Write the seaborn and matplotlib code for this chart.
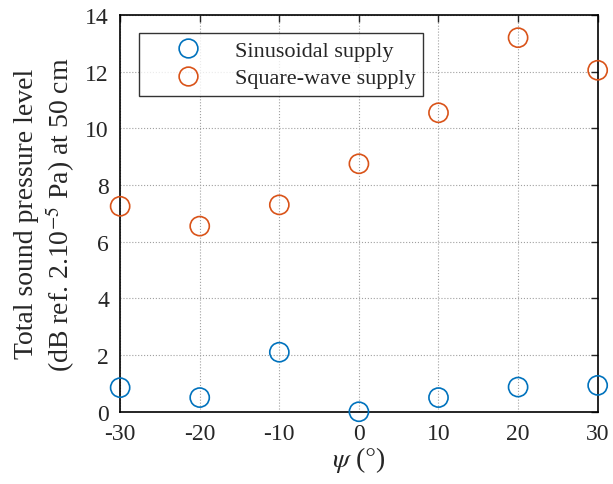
import matplotlib
matplotlib.use('Agg')
import matplotlib.pyplot as plt
import pandas as pd
import seaborn as sns

# angle psi (deg) and total SPL values
psi = [-30, -20, -10, 0, 10, 20, 30]
sinusoidal = [0.85, 0.5, 2.1, 0.0, 0.5, 0.87, 0.93]
square_wave = [7.25, 6.55, 7.3, 8.75, 10.55, 13.2, 12.05]
series_names = ['Sinusoidal supply', 'Square-wave supply']
colors = ['#0072BD', '#D95319']

df = pd.DataFrame({
    'psi': psi * 2,
    'spl': sinusoidal + square_wave,
    'supply': [series_names[0]] * len(psi) + [series_names[1]] * len(psi),
})

sns.set_style('white')
plt.rcParams['font.family'] = ['Liberation Serif', 'DejaVu Serif']
plt.rcParams['mathtext.fontset'] = 'stix'
plt.rcParams['axes.unicode_minus'] = False

fig = plt.figure(figsize=(6.13, 4.85), dpi=100)
ax = fig.add_axes([0.196, 0.149, 0.779, 0.818])

sns.scatterplot(data=df, x='psi', y='spl', hue='supply', palette=colors,
                ax=ax, marker='o', s=190, linewidth=1.2, legend=False,
                clip_on=False, zorder=3)
# hollow markers: move the hue colour from face to edge
coll = ax.collections[0]
fc = coll.get_facecolors()
coll.set_edgecolors(fc)
coll.set_facecolor('none')

ax.set_xlim(-30, 30)
ax.set_ylim(0, 14)
ax.set_xticks(range(-30, 31, 10))
ax.set_yticks(range(0, 15, 2))
ax.grid(True, linestyle=':', color='#a0a0a0', linewidth=0.8)
ax.tick_params(direction='in', length=5, labelsize=17, width=1,
               top=True, right=True, pad=8)
for sp in ax.spines.values():
    sp.set_color('black')
    sp.set_linewidth(1.2)

ax.set_xlabel(r'$\psi$ ($\degree$)', fontsize=20, labelpad=0)
ax.set_ylabel('Total sound pressure level\n(dB ref. 2.10$^{-5}$ Pa) at 50 cm',
              fontsize=20, labelpad=6, linespacing=1.2)

handles = [plt.Line2D([], [], marker='o', linestyle='none', markersize=13.5,
                      markerfacecolor='none', markeredgecolor=c, markeredgewidth=1.2)
           for c in colors]
leg = ax.legend(handles, series_names, loc='upper left', bbox_to_anchor=(0.04, 0.955),
                borderaxespad=0, fontsize=16, frameon=True, fancybox=False,
                edgecolor='black', borderpad=0.35, handletextpad=0.25,
                labelspacing=0.3, handlelength=3.7)
leg.get_frame().set_linewidth(1.0)

fig.savefig('out.png', dpi=100)
